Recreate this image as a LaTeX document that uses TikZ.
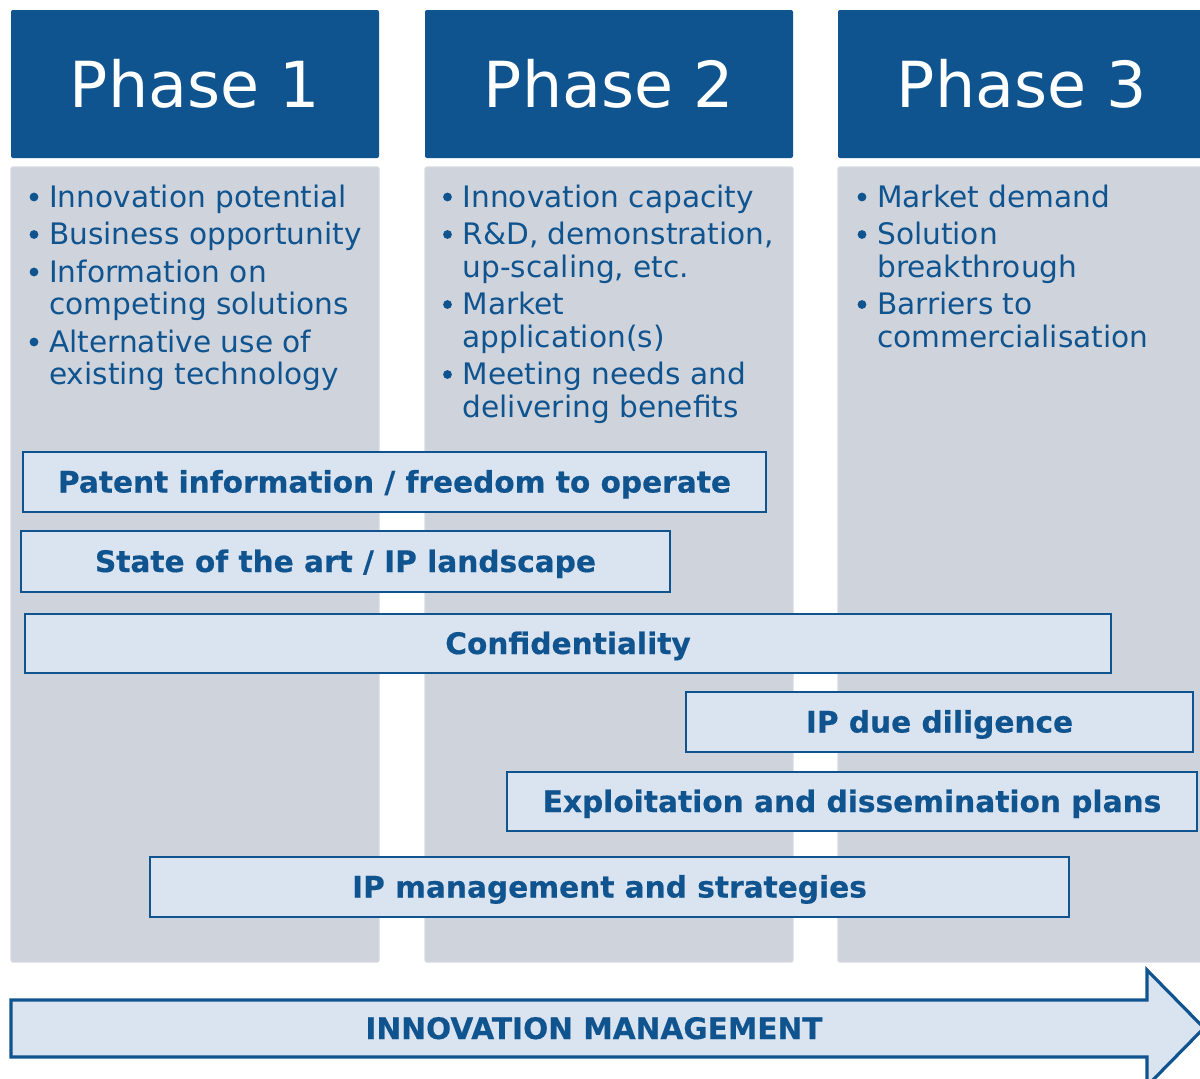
\documentclass[tikz,border=0pt]{standalone}
\usepackage{fontspec}
\setmainfont{DejaVu Sans}
\newfontfamily\barfont{DejaVu Sans}[UprightFont=*-Bold, FakeBold=0.5]
\definecolor{dblue}{HTML}{10548F}
\definecolor{panel}{HTML}{CFD3DC}
\definecolor{panelb}{HTML}{D6D9E0}
\definecolor{barfill}{HTML}{DAE3F0}
\begin{document}
\begin{tikzpicture}[x=1pt,y=-1pt,
 header/.style={fill=dblue, rounded corners=2pt, inner sep=0pt, text=white,
   font=\fontsize{63.5}{70}\selectfont, text height=46pt, text depth=0pt,
   minimum width=368pt, minimum height=148pt},
 panelbox/.style={fill=panel, draw=panelb, line width=1.2pt, rounded corners=2pt,
   inner sep=0pt, minimum width=368pt, minimum height=795pt},
 bar/.style={fill=barfill, draw=dblue, line width=1.8pt, inner sep=0pt, text=dblue,
   font=\fontsize{29.6}{33}\barfont, text height=21pt, text depth=0pt},
 item/.style={anchor=base west, inner sep=0pt, text=dblue, font=\fontsize{29.6}{33}\selectfont},
 dot/.style={fill=dblue}]
\useasboundingbox (0,0) rectangle (1200,1079);

% columns
\node[panelbox] (p1) at (195,564.5) {};
\node[panelbox] (p2) at (609,564.5) {};
\node[panelbox] (p3) at (1022,564.5) {};
\node[header] (h1) at (195,84) {Phase 1};
\node[header] (h2) at (609,84) {Phase 2};
\node[header] (h3) at (1022,84) {Phase 3};

% phase 1 items
\fill[dot] (34,197) circle (4.4);
\node[item] (a1) at (49,207) {Innovation potential};
\fill[dot] (34,234.5) circle (4.4);
\node[item] (a2) at (49,244.5) {Business opportunity};
\fill[dot] (34,272) circle (4.4);
\node[item] (a3) at (49,282) {Information on};
\node[item] (a3b) at (49,314.5) {competing solutions};
\fill[dot] (34,342) circle (4.4);
\node[item] (a4) at (49,352) {Alternative use of};
\node[item] (a4b) at (49,384.5) {existing technology};

% phase 2 items
\fill[dot] (447.5,197) circle (4.4);
\node[item] (b1) at (462.5,207) {Innovation capacity};
\fill[dot] (447.5,234.5) circle (4.4);
\node[item] (b2) at (462.5,244.5) {R\&D, demonstration,};
\node[item] (b2b) at (462.5,277) {up-scaling, etc.};
\fill[dot] (447.5,304.5) circle (4.4);
\node[item] (b3) at (462.5,314.5) {Market};
\node[item] (b3b) at (462.5,347) {application(s)};
\fill[dot] (447.5,374.5) circle (4.4);
\node[item] (b4) at (462.5,384.5) {Meeting needs and};
\node[item] (b4b) at (462.5,417) {delivering benefits};

% phase 3 items
\fill[dot] (862,197) circle (4.4);
\node[item] (c1) at (877,207) {Market demand};
\fill[dot] (862,234.5) circle (4.4);
\node[item] (c2) at (877,244.5) {Solution};
\node[item] (c2b) at (877,277) {breakthrough};
\fill[dot] (862,304.5) circle (4.4);
\node[item] (c3) at (877,314.5) {Barriers to};
\node[item] (c3b) at (877,347) {commercialisation};

% bars
\node[bar, minimum width=743pt, minimum height=60pt] (pat) at (394.5,482) {Patent information / freedom to operate};
\node[bar, minimum width=649pt, minimum height=61pt] (sota) at (345.5,561.5) {State of the art / IP landscape};
\node[bar, minimum width=1086pt, minimum height=59pt] (conf) at (568,643.5) {Confidentiality};
\node[bar, minimum width=507pt, minimum height=60pt] (dd) at (939.5,722) {IP due diligence};
\node[bar, minimum width=690pt, minimum height=59pt] (exp) at (852,801.5) {Exploitation and dissemination plans};
\node[bar, minimum width=919pt, minimum height=60pt] (ipm) at (609.5,887) {IP management and strategies};

% arrow
\draw[draw=dblue, line width=3.2pt, fill=barfill, line join=miter]
  (11,1000) -- (1147,1000) -- (1147,970) -- (1204,1028) -- (1147,1086)
  -- (1147,1057) -- (11,1057) -- cycle;
\node[inner sep=0pt, text=dblue, font=\fontsize{29.6}{33}\barfont,
  text height=21pt, text depth=0pt] (im) at (594,1028.5) {INNOVATION MANAGEMENT};
\end{tikzpicture}
\end{document}
